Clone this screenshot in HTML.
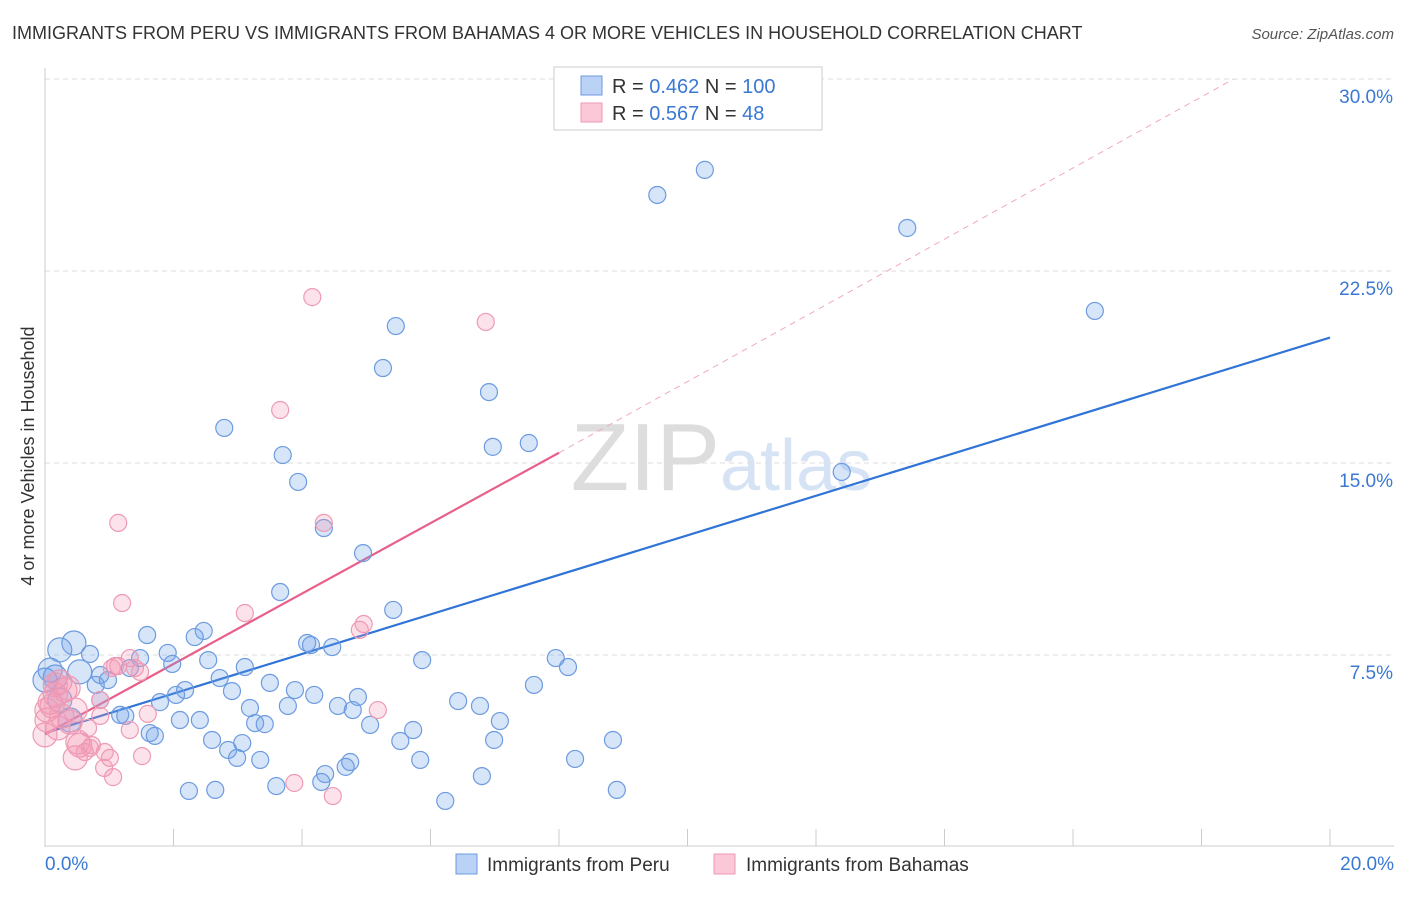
<!DOCTYPE html>
<html><head><meta charset="utf-8"><style>
body{margin:0;background:#fff;font-family:"Liberation Sans",sans-serif;}
svg text{font-family:"Liberation Sans",sans-serif;}
</style></head><body>
<svg id="c" width="1406" height="892" xmlns="http://www.w3.org/2000/svg">
<text x="12" y="39" font-size="18" fill="#333">IMMIGRANTS FROM PERU VS IMMIGRANTS FROM BAHAMAS 4 OR MORE VEHICLES IN HOUSEHOLD CORRELATION CHART</text>
<text x="1394" y="39" font-size="15" fill="#555" font-style="italic" text-anchor="end">Source: ZipAtlas.com</text>
<text x="34" y="456" font-size="18" fill="#333" text-anchor="middle" transform="rotate(-90 34 456)">4 or more Vehicles in Household</text>
<text x="720" y="490" font-size="96" fill="#ddd" text-anchor="end" font-family="Liberation Serif">ZIP</text>
<text x="720" y="490" font-size="72" fill="#d6e3f5">atlas</text>
<g id="grid"></g><g id="axes"></g><g id="lines"></g><g id="pts"></g>
<g>
<rect x="554" y="67" width="268" height="63" fill="#fff" stroke="#ccc"/>
<rect x="581" y="76" width="21" height="19" fill="#b9d2f5" stroke="#6d9be0"/>
<rect x="581" y="103" width="21" height="19" fill="#fbc8d8" stroke="#ee9ab4"/>
<text x="612" y="93" font-size="20" fill="#333">R = <tspan fill="#3a78d4">0.462</tspan>   N = <tspan fill="#3a78d4">100</tspan></text>
<text x="612" y="120" font-size="20" fill="#333">R = <tspan fill="#3a78d4">0.567</tspan>   N =   <tspan fill="#3a78d4">48</tspan></text>
</g>
<g>
<rect x="456" y="854" width="21" height="20" fill="#b9d2f5" stroke="#6d9be0"/>
<text x="487" y="871" font-size="19" fill="#333">Immigrants from Peru</text>
<rect x="714" y="854" width="21" height="20" fill="#fbc8d8" stroke="#ee9ab4"/>
<text x="746" y="871" font-size="19" fill="#333">Immigrants from Bahamas</text>
</g>
</svg>
<script>
const xTicks=[0,2,4,6,8,10,12,14,16,18,20];
const yTicks=[7.5,15,22.5,30];
const yTickLabels=["7.5%","15.0%","22.5%","30.0%"];
const peruPx=[[705,170],[657,195],[907,228],[1095,311],[396,326],[383,368],[489,392],[224,428],[529,443],[493,447],[283,455],[842,472],[298,482],[324,528],[363,553],[280,592],[393,610],[147,635],[204,631],[195,637],[168,653],[307,643],[311,645],[332,647],[74,643],[60,650],[90,654],[140,658],[172,664],[208,660],[245,667],[422,660],[556,658],[568,667],[50,670],[80,672],[55,677],[100,675],[108,680],[130,668],[220,678],[270,683],[295,690],[232,691],[185,690],[176,695],[160,702],[314,695],[358,697],[458,701],[480,706],[534,685],[96,685],[250,708],[288,706],[338,706],[353,710],[120,715],[125,716],[180,720],[200,720],[255,723],[265,724],[370,725],[413,730],[500,721],[150,733],[155,736],[212,740],[242,743],[228,750],[237,758],[260,760],[400,741],[494,740],[613,740],[350,762],[346,767],[420,760],[575,759],[325,774],[321,782],[482,776],[276,786],[189,791],[215,790],[617,790],[445,801],[100,700],[60,700],[70,720],[45,680]];
const bahPx=[[312,297],[486,322],[280,410],[324,523],[118,523],[122,603],[245,613],[364,624],[360,630],[130,658],[118,666],[115,666],[140,672],[60,682],[65,690],[55,695],[50,702],[75,710],[100,716],[47,720],[70,722],[58,728],[88,728],[45,735],[80,745],[90,748],[85,752],[105,752],[75,758],[110,758],[142,756],[130,730],[104,768],[113,777],[294,783],[333,796],[378,710],[148,714],[100,700],[135,668],[68,688],[52,706],[62,716],[47,710],[78,742],[92,745],[55,685],[112,668]];
// convert to data values (%)
const peruX=peruPx.map(p=>+((p[0]-45)/64.25).toFixed(2));
const peruY=peruPx.map(p=>+((847-p[1])/25.6).toFixed(2));
const bahX=bahPx.map(p=>+((p[0]-45)/64.25).toFixed(2));
const bahY=bahPx.map(p=>+((847-p[1])/25.6).toFixed(2));
const peruTrend=[4.45,19.9];
const bahTrend=[4.4,15.4,30];
const bahTrendX=[0,8,18.5];
const sx=v=>45+v*64.25, sy=v=>847-v*25.6;
const NS="http://www.w3.org/2000/svg";
function mk(par,tag,at){const e=document.createElementNS(NS,tag);for(const k in at)e.setAttribute(k,at[k]);document.getElementById(par).appendChild(e);return e;}
yTicks.forEach((t,i)=>{
 const l=mk('grid','line',{x1:45,x2:1394,y1:sy(t),y2:sy(t),stroke:'#ddd','stroke-dasharray':'5,4'});
 
 
 const tx=mk('grid','text',{x:1393,y:sy(t)+24,'font-size':19,fill:'#3a78d4','text-anchor':'end'});
 tx.textContent=yTickLabels[i];
 
 
});
mk('axes','line',{x1:45,x2:45,y1:68,y2:847,stroke:'#ccc'});
mk('axes','line',{x1:45,x2:1394,y1:846,y2:846,stroke:'#ccc'});
xTicks.forEach(t=>{const l=mk('axes','line',{x1:sx(t),x2:sx(t),y1:829,y2:846,stroke:'#ccc'});
 
 });
let a=mk('axes','text',{x:45,y:870,'font-size':19,fill:'#3a78d4'});a.textContent='0.0%';


a=mk('axes','text',{x:1394,y:870,'font-size':19,fill:'#3a78d4','text-anchor':'end'});a.textContent='20.0%';


function dot(x,y,fill,stroke,name){const r=(x<0.6&&y<8)?12:8.5;
 const c=mk('pts','circle',{cx:sx(x),cy:sy(y),r:r,fill:fill,stroke:stroke,'stroke-width':1.2});
 
 }
peruX.forEach((x,i)=>dot(x,peruY[i],'rgba(110,160,235,0.28)','#6d9be0','peru-point'));
bahX.forEach((x,i)=>dot(x,bahY[i],'rgba(245,150,180,0.28)','#ee9ab4','bahamas-point'));
let ln=mk('lines','line',{x1:sx(0),y1:sy(peruTrend[0]),x2:sx(20),y2:sy(peruTrend[1]),stroke:'#2f74d6','stroke-width':2.2});


ln=mk('lines','line',{x1:sx(bahTrendX[0]),y1:sy(bahTrend[0]),x2:sx(bahTrendX[1]),y2:sy(bahTrend[1]),stroke:'#e8608a','stroke-width':2.2});


ln=mk('lines','line',{x1:sx(bahTrendX[1]),y1:sy(bahTrend[1]),x2:sx(bahTrendX[2]),y2:sy(bahTrend[2]),stroke:'#f0a8bd','stroke-width':1,'stroke-dasharray':'6,5'});


</script>
</body></html>
